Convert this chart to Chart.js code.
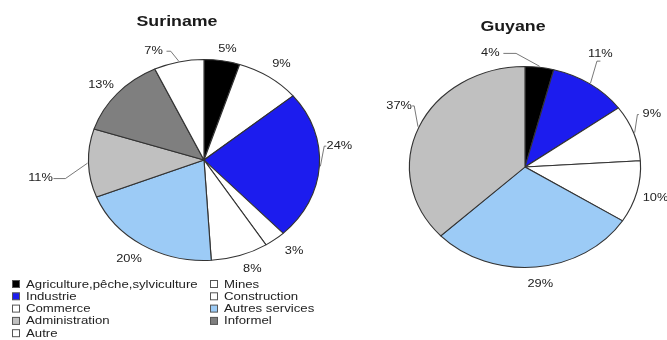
<!DOCTYPE html>
<html>
<head>
<meta charset="utf-8">
<script src="https://cdn.jsdelivr.net/npm/chart.js@4/dist/chart.umd.min.js"></script>
<style>
  body { margin: 0; background: #fff; }
  #wrap { position: relative; width: 667px; height: 340px; }
  #suriname { position: absolute; left: 0; top: 0; }
  #guyane { position: absolute; left: 340px; top: 0; }
</style>
</head>
<body>
<div id="wrap">
  <canvas id="suriname" width="667" height="340"></canvas>
  <canvas id="guyane" width="327" height="340"></canvas>
</div>
<script>
// secteurs d'activité
var categories = ['Agriculture,pêche,sylviculture', 'Mines', 'Industrie', 'Construction', 'Commerce',
                  'Autres services', 'Administration', 'Informel', 'Autre'];
var surinameValues = [5, 9, 24, 3, 8, 20, 11, 13, 7];
var guyaneValues = [4, 0, 11, 9, 10, 29, 37, 0, 0];
var sliceColors = ['#000000', '#ffffff', '#1c1cee', '#ffffff', '#ffffff', '#9ccbf6', '#c0c0c0', '#7f7f7f', '#ffffff'];

var FONT = '"Liberation Sans", Arial, sans-serif';
var STRETCH = 1.15; // les camemberts de l'original sont un peu ovales

// texte étiré en largeur, comme dans l'image d'origine
function wideText(ctx, txt, x, y, sx) {
    ctx.save();
    ctx.translate(x, y);
    ctx.scale(sx, 1);
    ctx.fillText(txt, 0, 0);
    ctx.restore();
}

var ovalPlugin = {
    id: 'oval',
    beforeDatasetsDraw: function (chart) {
        var arc = chart.getDatasetMeta(0).data[0];
        var ctx = chart.ctx;
        ctx.save();
        ctx.translate(arc.x, arc.y);
        ctx.scale(STRETCH, 1);
        ctx.translate(-arc.x, -arc.y);
    },
    afterDatasetsDraw: function (chart, args, opts) {
        var ctx = chart.ctx;
        ctx.restore();

        var meta = chart.getDatasetMeta(0);
        var values = chart.data.datasets[0].data;
        var cx = meta.data[0].x, cy = meta.data[0].y;

        ctx.save();
        ctx.fillStyle = '#1a1a1a';
        ctx.font = 'bold 14px ' + FONT;
        ctx.textAlign = 'center';
        ctx.textBaseline = 'middle';
        wideText(ctx, opts.title, cx + opts.titleShift, opts.titleY, 1.27);

        // pourcentages (avec trait de rappel pour ceux qui sont décalés)
        ctx.font = '10px ' + FONT;
        meta.data.forEach(function (el, i) {
            if (!values[i]) return;
            var p = el.getProps(['startAngle', 'endAngle', 'outerRadius']);
            var mid = (p.startAngle + p.endAngle) / 2;
            var shift = opts.shifts[i] || [0, 0, 0];
            var lx = cx + Math.cos(mid) * (p.outerRadius * STRETCH + 15) + shift[0];
            var ly = cy + Math.sin(mid) * (p.outerRadius + 13) + shift[1];
            if (shift[2]) {
                var ex = cx + Math.cos(mid) * (p.outerRadius * STRETCH + 1);
                var ey = cy + Math.sin(mid) * (p.outerRadius + 1);
                var sx = lx + (ex > lx ? 13 : -13);
                if (Math.abs(ex - lx) < 14) { sx = lx; }
                var sy = Math.abs(ex - lx) < 14 ? ly + (ey > ly ? 7 : -7) : ly;
                ctx.strokeStyle = '#555';
                ctx.lineWidth = 0.8;
                ctx.beginPath();
                ctx.moveTo(sx, sy);
                ctx.lineTo(sx + (ex - sx) * 0.35, sy);
                ctx.lineTo(ex, ey);
                ctx.stroke();
            }
            ctx.fillStyle = '#222';
            wideText(ctx, values[i] + '%', lx, ly, 1.28);
        });
        ctx.restore();
    },
    afterDraw: function (chart, args, opts) {
        if (!opts.legend) return;
        var ctx = chart.ctx;
        var colors = chart.data.datasets[0].backgroundColor;
        ctx.save();
        ctx.font = '11px ' + FONT;
        ctx.textBaseline = 'middle';
        ctx.textAlign = 'left';
        chart.data.labels.forEach(function (label, i) {
            var col = i % 2, row = Math.floor(i / 2);
            var x = col === 0 ? 12 : 210;
            var y = 284 + row * 12.3;
            ctx.fillStyle = colors[i];
            ctx.fillRect(x + 0.5, y - 3.5, 7, 7);
            ctx.strokeStyle = '#555';
            ctx.lineWidth = 1;
            ctx.strokeRect(x + 0.5, y - 3.5, 7, 7);
            ctx.fillStyle = '#222';
            wideText(ctx, label, x + 14, y + 0.5, 1.2);
        });
        ctx.restore();
    }
};

function makePie(id, values, padding, oval) {
    var ctx = document.getElementById(id).getContext('2d');
    return new Chart(ctx, {
        type: 'pie',
        data: {
            labels: categories,
            datasets: [{
                data: values,
                backgroundColor: sliceColors,
                borderColor: '#333',
                borderWidth: 1
            }]
        },
        options: {
            responsive: false,
            animation: false,
            layout: { padding: padding },
            plugins: {
                legend: { display: false },
                tooltip: { enabled: false },
                oval: oval
            }
        },
        plugins: [ovalPlugin]
    });
}

makePie('suriname', surinameValues,
    { left: 103, right: 362, top: 59, bottom: 79 },
    {
        title: 'Suriname', titleShift: -27, titleY: 22, legend: true,
        shifts: [[3, 1], [4, -2], [5, -21, 1], [10, 2], [8, 1], [-5, 3], [-33, 15, 1], [-5, 0], [-22, 2, 1]]
    });

makePie('guyane', guyaneValues,
    { left: 84, right: 41, top: 66, bottom: 72 },
    {
        title: 'Guyane', titleShift: -12, titleY: 27, legend: false,
        shifts: [[-51, -1, 1], [0, 0], [2, -19, 1], [4, -14, 1], [4, 3], [3, 4], [-6, -16, 1], [0, 0], [0, 0]]
    });
</script>
</body>
</html>
